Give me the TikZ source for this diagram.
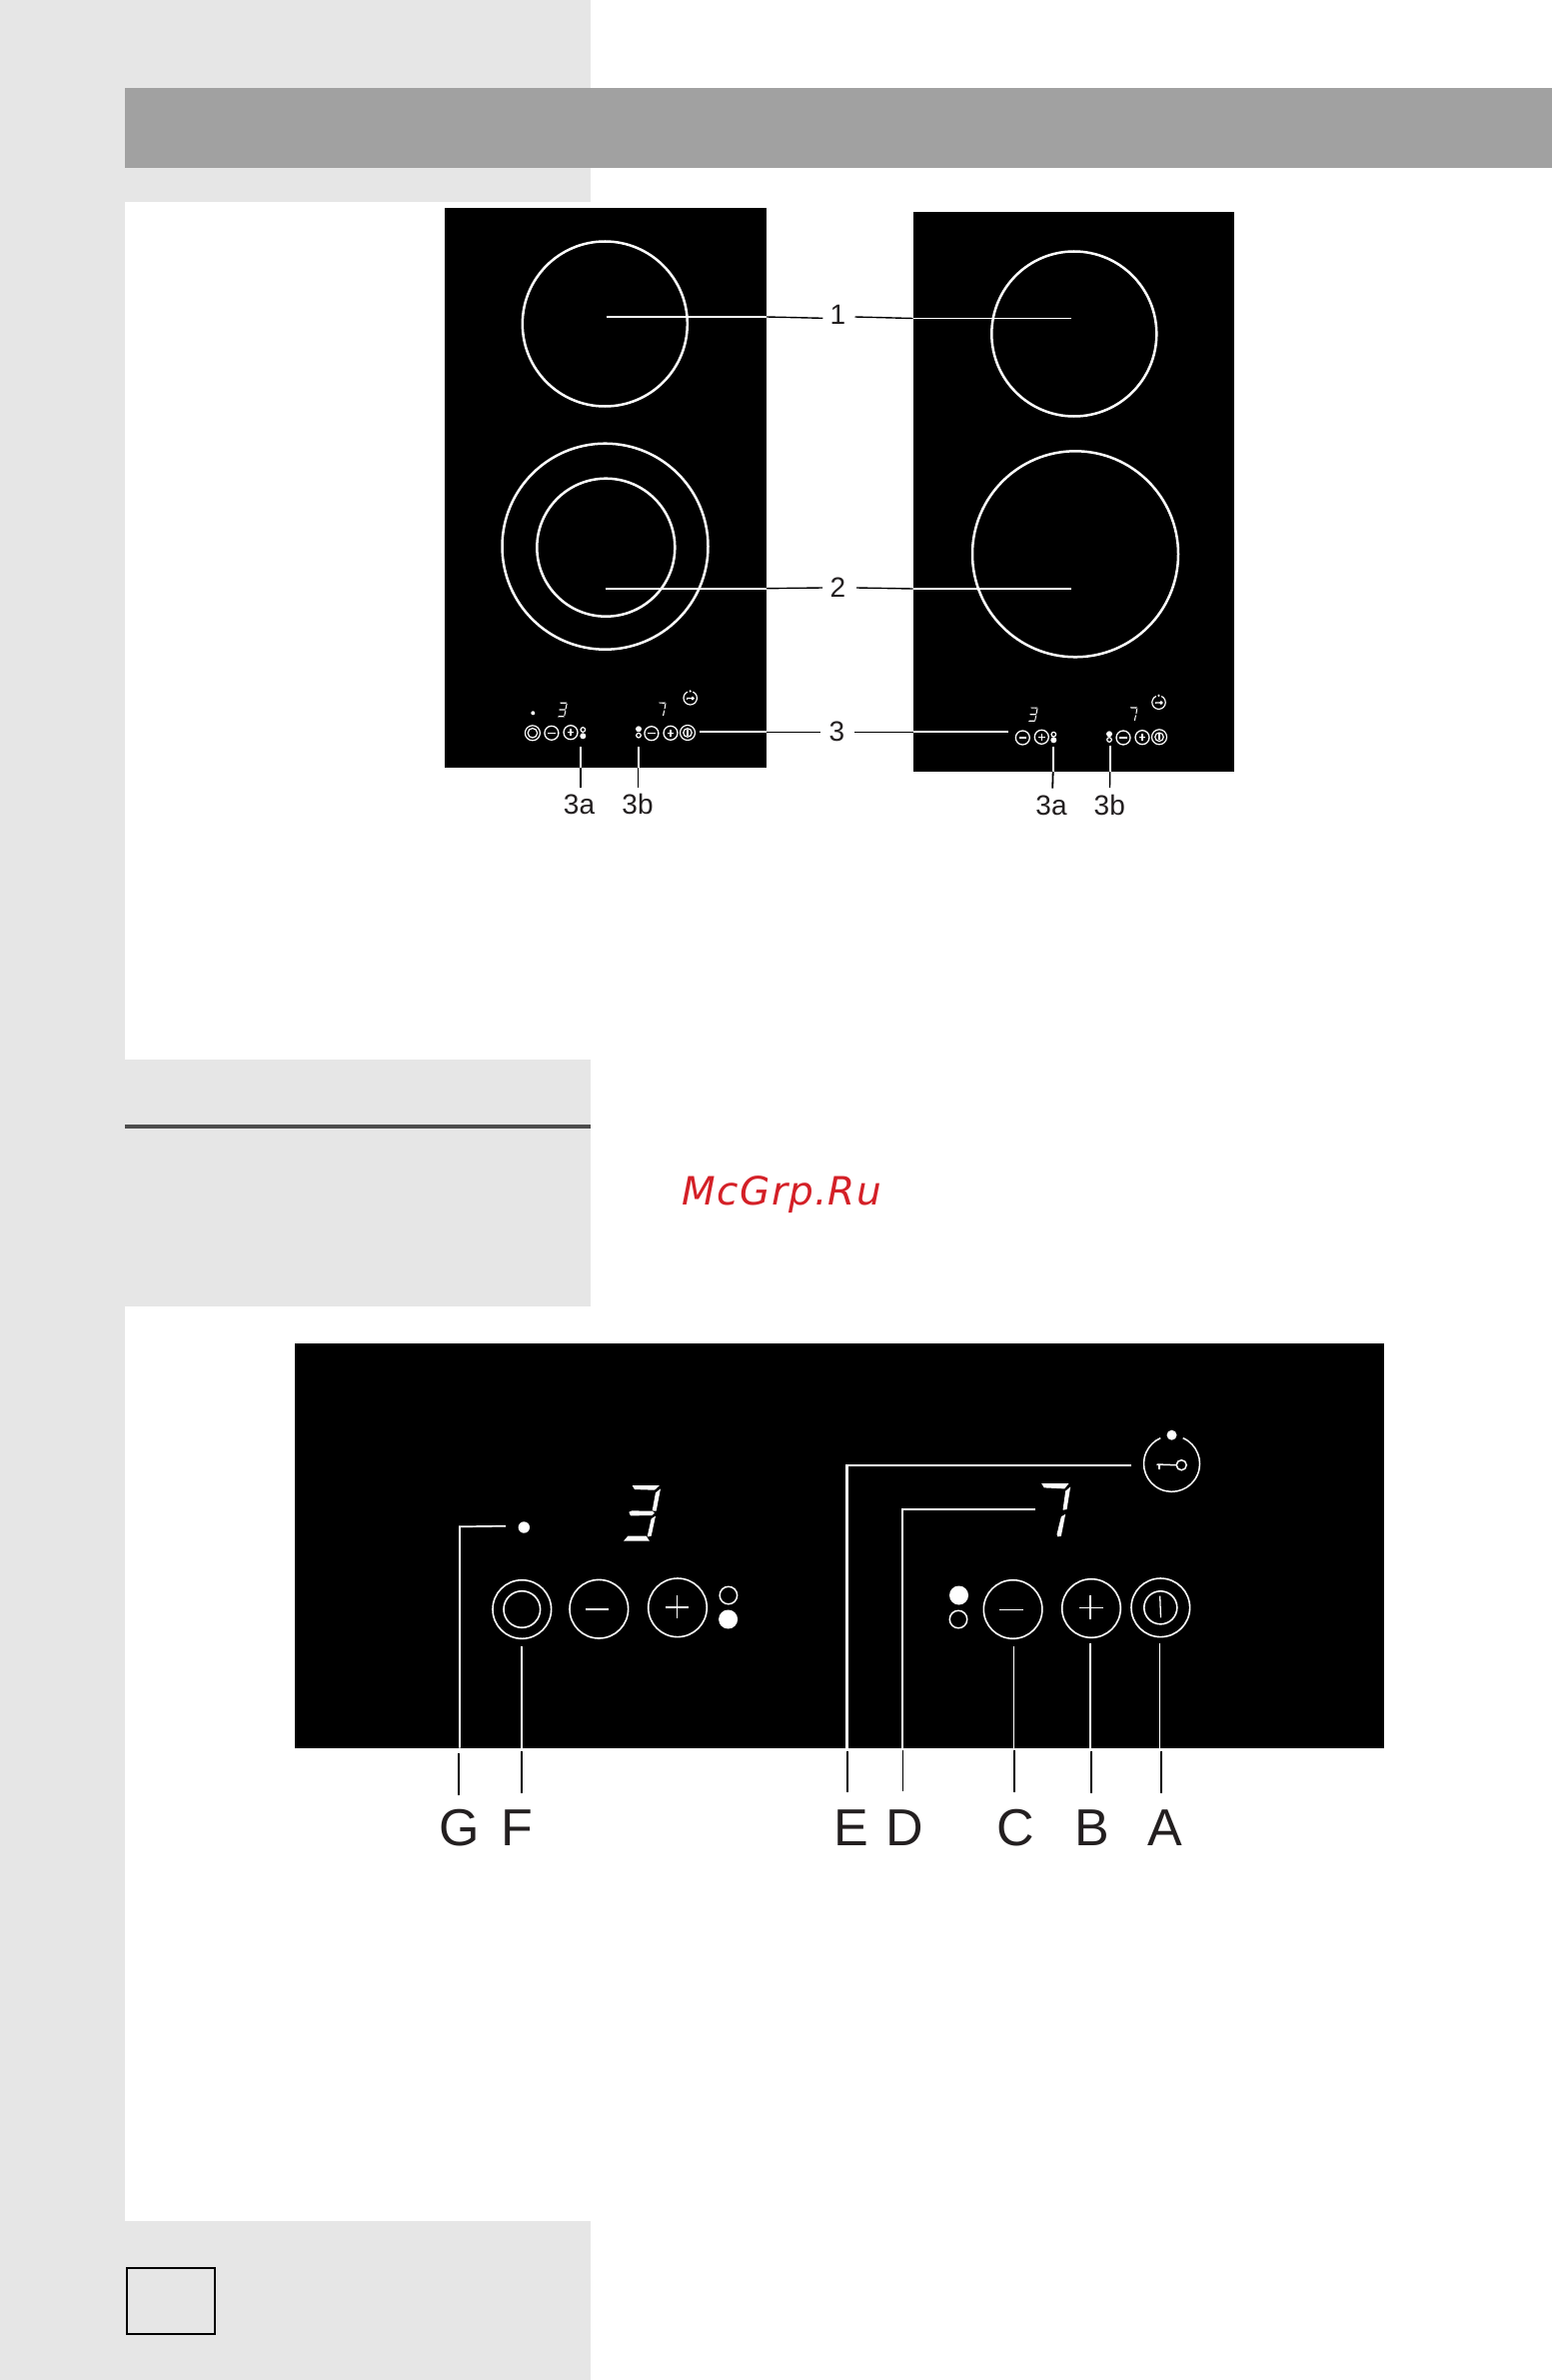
\documentclass[tikz,border=0pt]{standalone}
\usepackage{fontspec}
\setmainfont{Liberation Sans}
\newfontfamily\wmfont[LetterSpace=3.2]{DejaVu Sans}
\definecolor{pagegray}{HTML}{E6E6E6}
\definecolor{bandgray}{HTML}{A1A1A1}
\definecolor{rulegray}{HTML}{4D4D4D}
\definecolor{inkdark}{HTML}{231F20}
\definecolor{wmred}{HTML}{D42027}
\tikzset{
  plate/.style={fill=black,draw=none},
  burner/.style={circle,draw=white,line width=2.5pt,inner sep=0pt,fill=none},
  smallctl/.style={circle,draw=white,line width=1.3pt,inner sep=0pt,minimum size=14pt},
  smallring/.style={circle,draw=white,line width=1.2pt,inner sep=0pt,minimum size=15pt},
  smallin/.style={circle,draw=white,line width=1.2pt,inner sep=0pt,minimum size=8.5pt},
  bigctl/.style={circle,draw=white,line width=1.6pt,inner sep=0pt,minimum size=58.6pt},
  bigin/.style={circle,draw=white,line width=1.6pt,inner sep=0pt,minimum size=#1},
  opendot/.style={circle,draw=white,line width=#1,inner sep=0pt},
  soliddot/.style={circle,fill=white,draw=none,inner sep=0pt},
  wlead/.style={draw=white,line width=1.7pt},
  blead/.style={draw=black,line width=1.4pt},
  wbig/.style={draw=white,line width=1.7pt},
  glyphbar/.style={draw=white,line width=1.3pt},
  smalllab/.style={font=\fontsize{28}{28}\selectfont,text=inkdark,anchor=base,inner sep=0pt},
  biglab/.style={font=\fontsize{52}{52}\selectfont,text=inkdark,anchor=base,inner sep=0pt},
}
\newcommand{\digitthree}[3]{%
 \begin{scope}[shift={(#1,#2)},x=#3pt,y=-#3pt]
  \fill[white] (-29,-83) -- (53,-83) -- (38,-69) -- (-22,-71) -- cycle;
  \fill[white] (-39,-3) -- (-30,-7) -- (31,-6) -- (38,0) -- (30,7) -- (-34,8) -- cycle;
  \fill[white] (-55,84) -- (-42,69) -- (13,69) -- (23,84) -- cycle;
  \fill[white] (56,-73) -- (43,-6) -- (31,-7) -- (41,-61) -- cycle;
  \fill[white] (41,9) -- (28,69) -- (16,71) -- (28,17) -- cycle;
 \end{scope}}
\newcommand{\digitseven}[3]{%
 \begin{scope}[shift={(#1,#2)},x=#3pt,y=-#3pt]
  \fill[white] (-43,-80) -- (39,-80) -- (26,-64) -- (-35,-67) -- cycle;
  \fill[white] (44,-70) -- (33,-2) -- (21,0) -- (29,-57) -- cycle;
  \fill[white] (29,12) -- (16,78) -- (6,80) -- (3,73) -- (16,20) -- cycle;
 \end{scope}}
\newcommand{\keyicon}[4]{%
 \begin{scope}[shift={(#1,#2)},x=#3pt,y=-#3pt]
  \draw[white,line width=#4] (293.7:28) arc[start angle=293.7,end angle=606.3,radius=28];
  \fill[white] (0,-28.6) circle[radius=5];
  \draw[white,line width=#4] (-15,0.7) -- (4.4,1.4);
  \draw[white,line width=#4] (-12.3,0.7) -- (-12.3,5.7);
  \draw[white,line width=#4] (9.7,1.4) circle[radius=5];
 \end{scope}}
\begin{document}
\begin{tikzpicture}[x=1pt,y=-1pt]
\useasboundingbox (0,0) rectangle (1553,2381);
% page
\fill[white] (0,0) rectangle (1553,2381);
\fill[pagegray] (0,0) rectangle (590.5,2381);
\fill[white] (125,202) rectangle (590.5,1060);
\fill[white] (125,1307) rectangle (590.5,2222);
\fill[bandgray] (125,88) rectangle (1553,168);
\fill[rulegray] (125,1125) rectangle (590.5,1129);
\draw[black,line width=2pt] (127,2269) rectangle (215,2335);
\node[font=\wmfont\itshape\fontsize{39}{39}\selectfont,text=wmred,anchor=base,inner sep=0pt] (wm) at (782.5,1205) {McGrp.Ru};
% ---- left plate
\fill[plate] (445,208) rectangle (767,768);
\node[burner,minimum size=165pt] (la) at (605.3,324) {};
\node[burner,minimum size=206pt] (lbo) at (605.5,546.7) {};
\node[burner,minimum size=138pt] (lbi) at (606.3,547.7) {};
% ---- right plate
\fill[plate] (913.5,212) rectangle (1234.5,772);
\node[burner,minimum size=165pt] (ra) at (1074.8,334) {};
\node[burner,minimum size=206pt] (rb) at (1076,554.3) {};
% labels 1,2,3
\node[smalllab] (n1) at (838.5,324.3) {1};
\node[smalllab] (n2) at (838.5,597) {2};
\node[smalllab] (n3) at (837.5,741.5) {3};
% leaders 1
\coordinate (a1) at (606.7,317); \coordinate (a2) at (767,317); \coordinate (a3) at (823.3,318.3);
\coordinate (a4) at (855.5,317); \coordinate (a5) at (913.5,318.5); \coordinate (a6) at (1071.5,318.5);
\draw[wlead] (a1) -- (a2); \draw[blead] (a2) -- (a3); \draw[blead] (a4) -- (a5); \draw[wlead] (a5) -- (a6);
% leaders 2
\coordinate (b1) at (605.7,588.7); \coordinate (b2) at (767,588.7); \coordinate (b3) at (823,588);
\coordinate (b4) at (857,588); \coordinate (b5) at (913.5,589); \coordinate (b6) at (1072,589);
\draw[wlead] (b1) -- (b2); \draw[blead] (b2) -- (b3); \draw[blead] (b4) -- (b5); \draw[wlead] (b5) -- (b6);
% leaders 3
\coordinate (c1) at (700,732.3); \coordinate (c2) at (767,732.3); \coordinate (c3) at (821,732.3);
\coordinate (c4) at (855,732.3); \coordinate (c5) at (913.5,732.3); \coordinate (c6) at (1009,732.3);
\draw[wlead] (c1) -- (c2); \draw[blead] (c2) -- (c3); \draw[blead] (c4) -- (c5); \draw[wlead] (c5) -- (c6);
% left small controls
\node[soliddot,minimum size=4pt] (ldot) at (533.3,713.3) {};
\digitthree{562.8}{710}{0.088}
\digitseven{662.8}{709.3}{0.085}
\keyicon{690.7}{698.3}{0.24}{1.2pt}
\node[smallring] (lfo) at (532.9,733.3) {};
\node[smallin,minimum size=9.5pt] (lfi) at (532.9,733.3) {};
\node[smallctl] (lm1) at (551.9,733.3) {};
\draw[white,line width=1.5pt] (548.1,733.3) -- (555.7,733.3);
\node[smallctl] (lp1) at (571,732.7) {};
\draw[white,line width=1.5pt] (567.7,732.7) -- (574.3,732.7) (571,729.4) -- (571,736);
\node[opendot=1.2pt,minimum size=4.6pt] (ld1) at (583.3,730) {};
\node[soliddot,minimum size=6pt] (ld2) at (583.3,736.3) {};
\node[soliddot,minimum size=6pt] (ld3) at (639,729.3) {};
\node[opendot=1.2pt,minimum size=4.6pt] (ld4) at (639,735.7) {};
\node[smallctl] (lm2) at (651.9,733.7) {};
\draw[white,line width=1.5pt] (648.1,733.7) -- (655.7,733.7);
\node[smallctl] (lp2) at (671,733.3) {};
\draw[white,line width=1.5pt] (667.7,733.3) -- (674.3,733.3) (671,730) -- (671,736.6);
\node[smallring] (lo) at (688,733) {};
\node[smallin] (loi) at (688,733) {};
\draw[white,line width=1.2pt] (688,730) -- (688,736);
% left ticks
\node[smalllab] (l3a) at (579.5,814.5) {3a};
\node[smalllab] (l3b) at (638,814.5) {3b};
\coordinate (t1) at (581,747.3); \coordinate (t2) at (581,768); \coordinate (t3) at (581,787.7);
\coordinate (t4) at (638.7,747.3); \coordinate (t5) at (638.7,768); \coordinate (t6) at (638.7,787.7);
\draw[wlead] (t1) -- (t2); \draw[blead] (t2) -- (t3);
\draw[wlead] (t4) -- (t5); \draw[blead] (t5) -- (t6);
% right small controls
\digitthree{1033.8}{714.7}{0.086}
\digitseven{1134.6}{714.2}{0.085}
\keyicon{1159.5}{702.7}{0.24}{1.2pt}
\node[smallctl] (rm1) at (1023.3,738) {};
\draw[white,line width=1.5pt] (1019.5,738) -- (1027.1,738);
\node[smallctl] (rp1) at (1042.3,737.3) {};
\draw[white,line width=1.5pt] (1039,737.3) -- (1045.6,737.3) (1042.3,734) -- (1042.3,740.6);
\node[opendot=1.2pt,minimum size=4.6pt] (rd1) at (1054.3,734.7) {};
\node[soliddot,minimum size=6pt] (rd2) at (1054.3,740.3) {};
\node[soliddot,minimum size=6pt] (rd3) at (1110,734.3) {};
\node[opendot=1.2pt,minimum size=4.6pt] (rd4) at (1110,740) {};
\node[smallctl] (rm2) at (1124,738) {};
\draw[white,line width=1.5pt] (1120.2,738) -- (1127.8,738);
\node[smallctl] (rp2) at (1143,737.7) {};
\draw[white,line width=1.5pt] (1139.7,737.7) -- (1146.3,737.7) (1143,734.4) -- (1143,741);
\node[smallring] (ro) at (1160,737.3) {};
\node[smallin] (roi) at (1160,737.3) {};
\draw[white,line width=1.2pt] (1160,734.3) -- (1160,740.3);
% right ticks
\node[smalllab] (r3a) at (1052,815) {3a};
\node[smalllab] (r3b) at (1110.3,815) {3b};
\coordinate (u1) at (1053.7,747.3); \coordinate (u2) at (1053.7,772); \coordinate (u3) at (1053.2,788.7);
\coordinate (u4) at (1110.7,746); \coordinate (u5) at (1110.7,772); \coordinate (u6) at (1110.5,788);
\draw[wlead] (u1) -- (u2); \draw[draw=black,line width=1.8pt] (u2) -- (u3);
\draw[wlead] (u4) -- (u5); \draw[blead] (u5) -- (u6);
% ---- lower plate
\fill[plate] (294.5,1343.5) rectangle (1384.5,1748.7);
\node[soliddot,minimum size=11.4pt] (dG) at (524.3,1528) {};
\digitthree{642.3}{1513.7}{0.3333}
\digitseven{1056.5}{1510.7}{0.3333}
\keyicon{1172.5}{1464.3}{1}{1.5pt}
\node[bigctl] (F) at (522.3,1610) {};
\node[bigin=36.6pt] (Fi) at (522.3,1610) {};
\node[bigctl] (m1) at (599.3,1609.7) {};
\draw[glyphbar] (585.6,1610) -- (609.3,1610);
\node[bigctl] (p1) at (678,1608.3) {};
\draw[glyphbar] (665.6,1608) -- (689.3,1608) (677.6,1595.7) -- (677.6,1619.3);
\node[opendot=1.5pt,minimum size=17.5pt] (d1) at (728.9,1596) {};
\node[soliddot,minimum size=19pt] (d2) at (728.6,1620) {};
\node[soliddot,minimum size=19pt] (d3) at (959.5,1596) {};
\node[opendot=1.5pt,minimum size=17.5pt] (d4) at (959,1620) {};
\node[bigctl] (C) at (1013.6,1610) {};
\draw[glyphbar] (1000.3,1610.3) -- (1024.3,1610.3);
\node[bigctl] (B) at (1092,1609) {};
\draw[glyphbar] (1079.6,1608.7) -- (1103.6,1608.7) (1091,1596) -- (1091,1620);
\node[bigctl] (A) at (1161.3,1608.3) {};
\node[bigin=33pt] (Ai) at (1161.3,1608.3) {};
\draw[glyphbar] (1160.7,1596.7) -- (1161.5,1618.3);
% lower letters
\node[biglab] (lG) at (459.5,1846) {G};
\node[biglab] (lF) at (517,1846) {F};
\node[biglab] (lE) at (852.3,1846) {E};
\node[biglab] (lD) at (905.5,1846.5) {D};
\node[biglab] (lC) at (1016.5,1846.5) {C};
\node[biglab] (lB) at (1092.5,1846) {B};
\node[biglab] (lA) at (1165.5,1846) {A};
% lower connectors
\coordinate (gs) at (506,1526.7); \coordinate (gc) at (460,1527.3); \coordinate (ge) at (460,1748.7);
\draw[wbig] (gs) -- (gc) -- (ge);
\coordinate (gb1) at (459,1754); \coordinate (gb2) at (459,1796); \draw[blead] (gb1) -- (gb2);
\coordinate (fs) at (521.9,1647.3); \coordinate (fe) at (521.9,1748.7);
\draw[wbig] (fs) -- (fe);
\coordinate (fb1) at (522,1752); \coordinate (fb2) at (522,1794); \draw[blead] (fb1) -- (fb2);
\coordinate (es) at (1132,1466); \coordinate (ec) at (847.5,1466); \coordinate (ee) at (847.5,1748.7);
\draw[draw=white,line width=2.3pt] (es) -- (ec) -- (ee);
\coordinate (eb1) at (848,1752); \coordinate (eb2) at (848,1792.7); \draw[blead] (eb1) -- (eb2);
\coordinate (ds) at (1036,1510.3); \coordinate (dc) at (903.3,1510.3); \coordinate (de) at (903.3,1748.7);
\draw[wbig] (ds) -- (dc) -- (de);
\coordinate (db1) at (903.3,1751); \coordinate (db2) at (903.3,1791.7); \draw[blead] (db1) -- (db2);
\coordinate (cs) at (1014.6,1647.3); \coordinate (ce) at (1014.6,1748.7);
\draw[wbig] (cs) -- (ce);
\coordinate (cb1) at (1015,1751); \coordinate (cb2) at (1015,1792.7); \draw[blead] (cb1) -- (cb2);
\coordinate (bs) at (1091,1644); \coordinate (be) at (1091,1748.7);
\draw[wbig] (bs) -- (be);
\coordinate (bb1) at (1092,1752); \coordinate (bb2) at (1092,1794); \draw[blead] (bb1) -- (bb2);
\coordinate (as) at (1160.5,1644); \coordinate (ae) at (1160.5,1748.7);
\draw[wbig] (as) -- (ae);
\coordinate (ab1) at (1162,1752); \coordinate (ab2) at (1162,1794); \draw[blead] (ab1) -- (ab2);
\end{tikzpicture}
\end{document}
